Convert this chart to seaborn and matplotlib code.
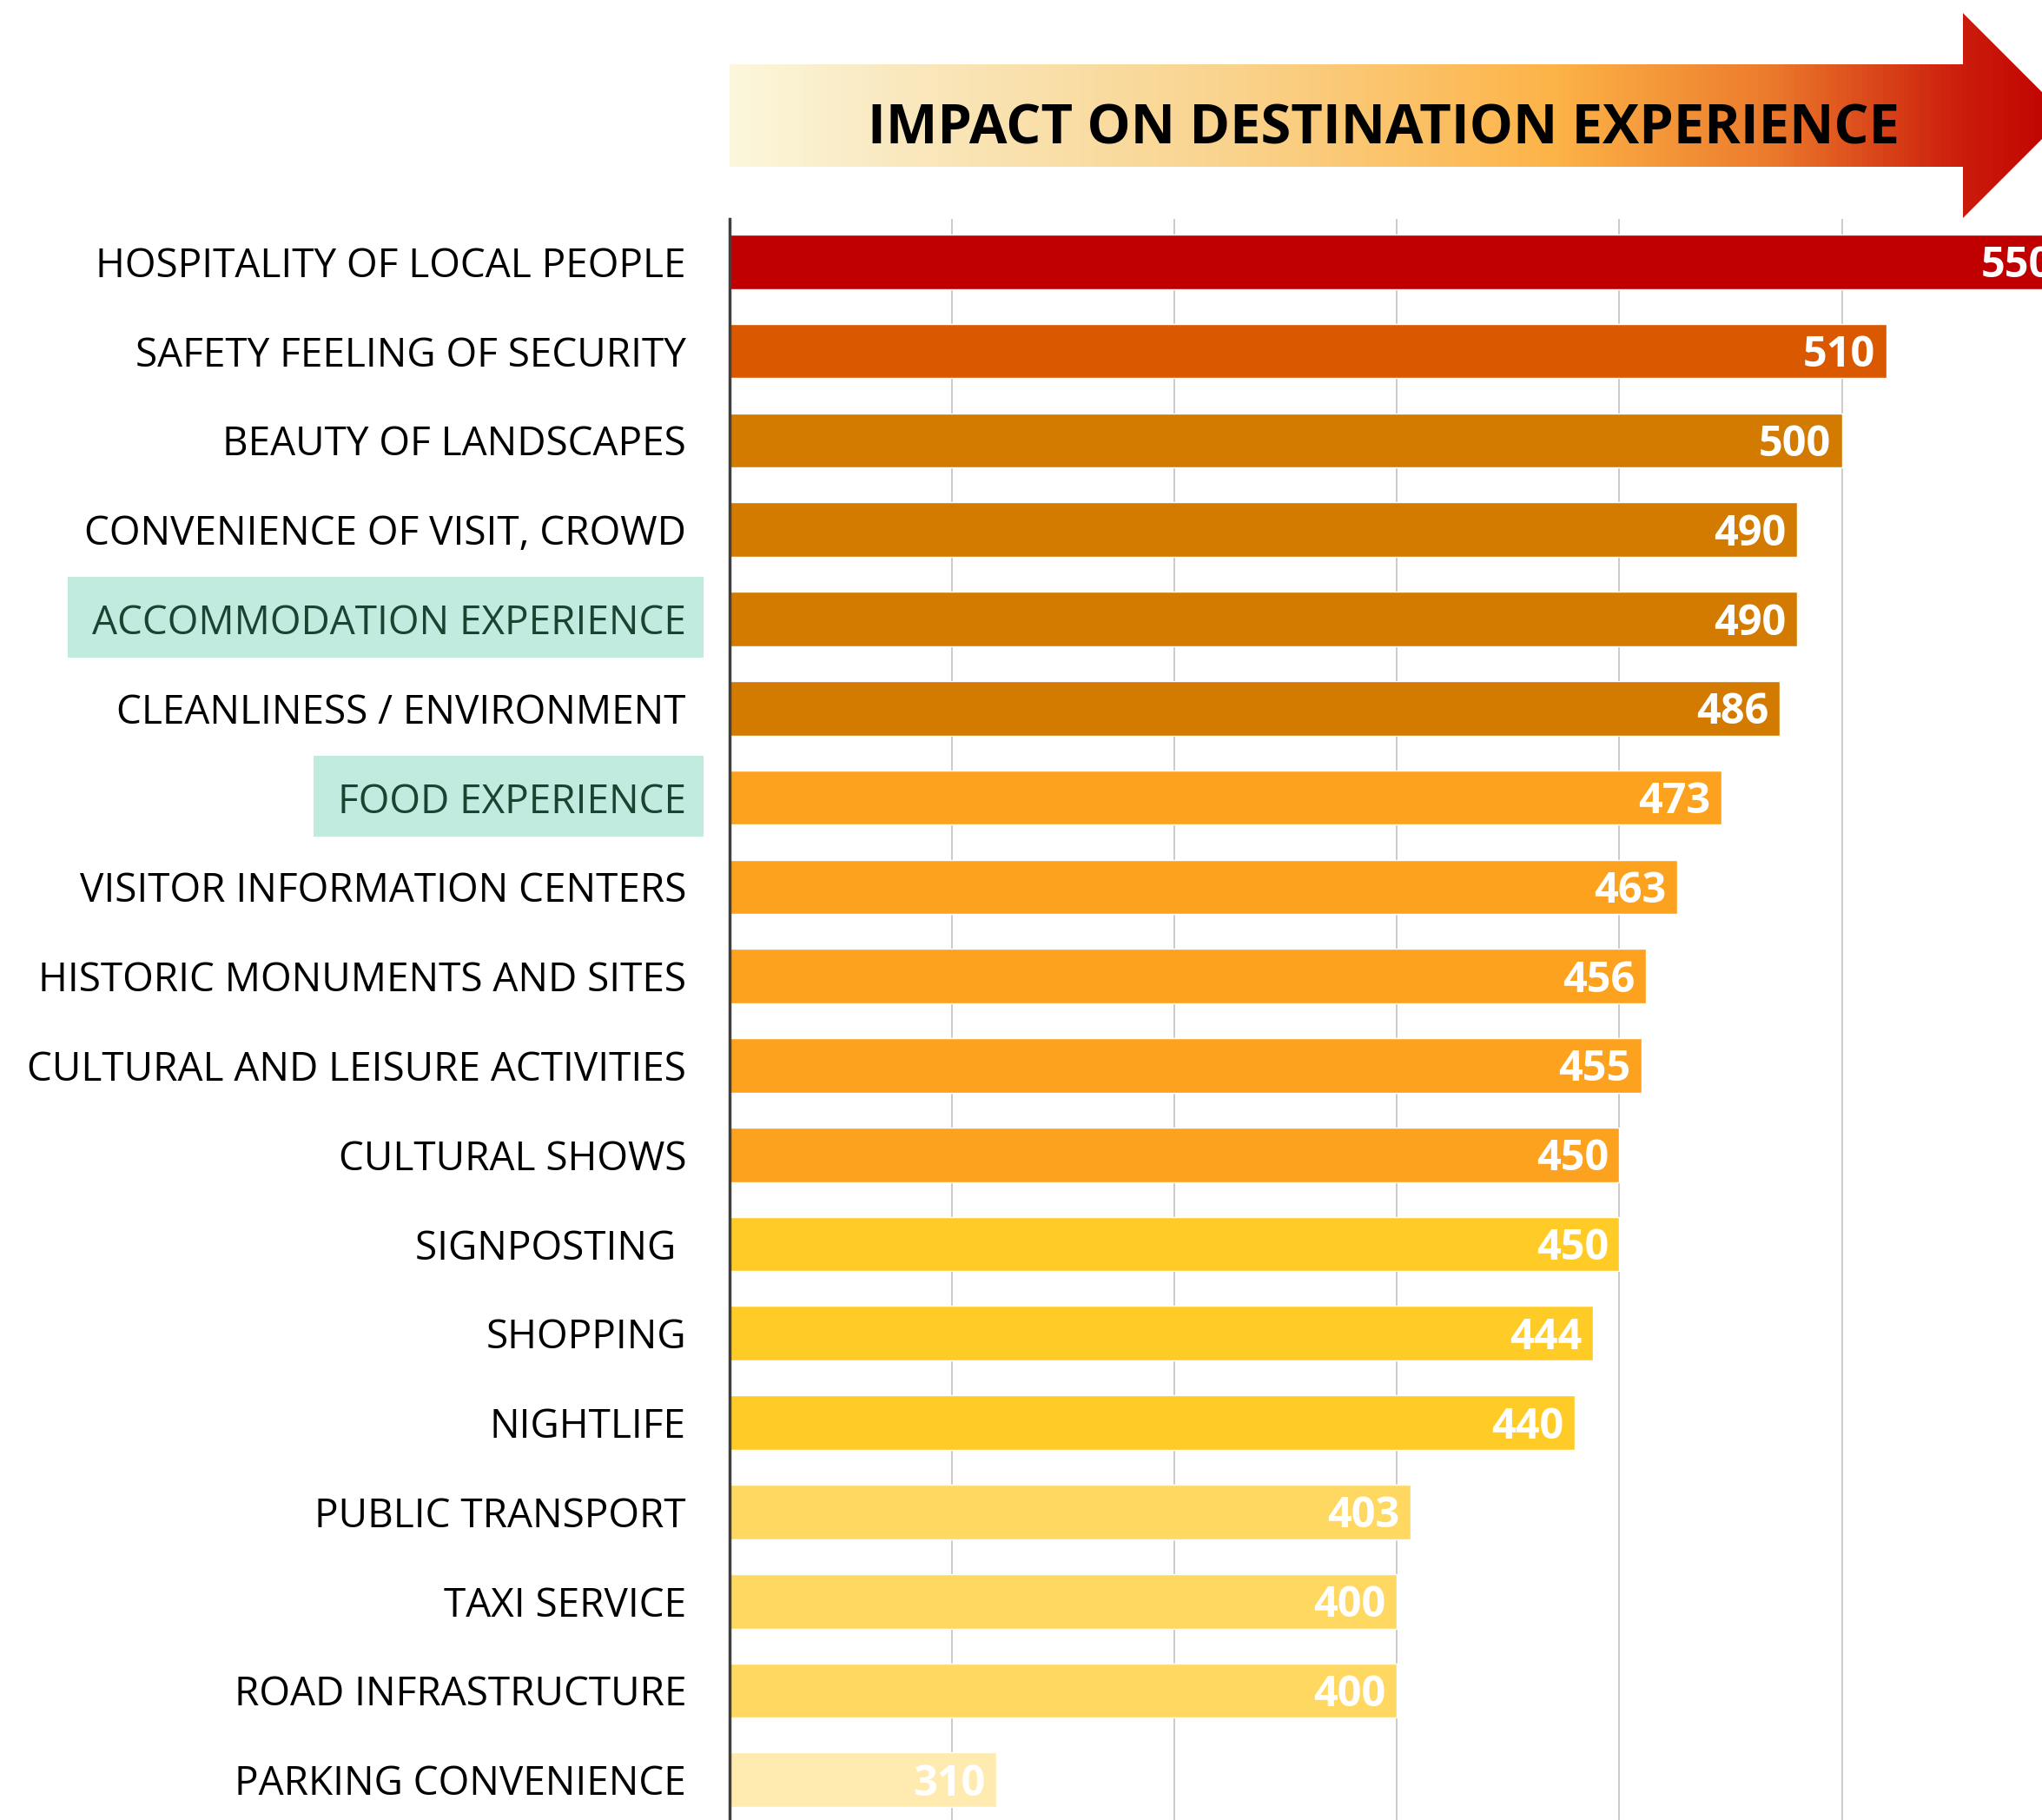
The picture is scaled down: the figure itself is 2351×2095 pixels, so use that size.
import numpy as np
import pandas as pd
import seaborn as sns
import matplotlib.pyplot as plt
from matplotlib.patches import Polygon, Rectangle
from matplotlib.colors import LinearSegmentedColormap

# Scores per destination factor
categories = [
    "HOSPITALITY OF LOCAL PEOPLE",
    "SAFETY FEELING OF SECURITY",
    "BEAUTY OF LANDSCAPES",
    "CONVENIENCE OF VISIT, CROWD",
    "ACCOMMODATION EXPERIENCE",
    "CLEANLINESS / ENVIRONMENT",
    "FOOD EXPERIENCE",
    "VISITOR INFORMATION CENTERS",
    "HISTORIC MONUMENTS AND SITES",
    "CULTURAL AND LEISURE ACTIVITIES",
    "CULTURAL SHOWS",
    "SIGNPOSTING ",
    "SHOPPING",
    "NIGHTLIFE",
    "PUBLIC TRANSPORT",
    "TAXI SERVICE",
    "ROAD INFRASTRUCTURE",
    "PARKING CONVENIENCE",
]
values = [550, 510, 500, 490, 490, 486, 473, 463, 456, 455, 450, 450, 444, 440, 403, 400, 400, 310]
bar_colors = (["#C00000", "#DA5800"] + ["#D27B00"] * 4 + ["#FDA21E"] * 5
              + ["#FFCB27"] * 3 + ["#FFD862"] * 3 + ["#FFEBAF"])
highlighted = ["ACCOMMODATION EXPERIENCE", "FOOD EXPERIENCE"]
title = "IMPACT ON DESTINATION EXPERIENCE"
grid_ticks = [300, 350, 400, 450, 500]

df = pd.DataFrame({"factor": categories, "score": values})

sns.set_style("white")
plt.rcParams["font.family"] = ["Open Sans", "DejaVu Sans"]

W, H = 2351, 2095
fig = plt.figure(figsize=(W / 100, H / 100), dpi=100)

# overlay in pixel coordinates for the arrow banner and label highlights
ov = fig.add_axes([0, 0, 1, 1], zorder=0)
ov.set_xlim(0, W)
ov.set_ylim(H, 0)
ov.axis("off")

ax = fig.add_axes([840 / W, 0, 1 - 840 / W, 1 - 252 / H], zorder=1)
ax.set_facecolor("none")

sns.barplot(data=df, x="score", y="factor", hue="factor", palette=bar_colors,
            legend=False, width=0.61, saturation=1, orient="h", ax=ax)

ax.set_xlim(250, 545)
ax.set_ylim(17.45, -0.48)
ax.set_xticks(grid_ticks)
ax.xaxis.grid(True, color="#BDBDBD", linewidth=1.1)
ax.set_axisbelow(True)
ax.tick_params(axis="x", length=0, labelbottom=False)
ax.tick_params(axis="y", length=0, pad=36, labelsize=33)
ax.set_xlabel("")
ax.set_ylabel("")
for s in ["top", "right", "bottom"]:
    ax.spines[s].set_visible(False)
ax.spines["left"].set_color("#404040")
ax.spines["left"].set_linewidth(2.5)

for lab in ax.get_yticklabels():
    lab.set_color("#1B4332" if lab.get_text() in highlighted else "black")

# value labels inside bar ends (the top one runs past the edge, as in the source)
for i, v in enumerate(values):
    ax.annotate(str(v), xy=(v, i), xytext=(-9, -4), textcoords="offset points",
                ha="right", va="center", color="white", fontsize=35,
                fontweight="bold", annotation_clip=False)

# gradient arrow banner
arrow_pts = [(840, 74), (2260, 74), (2260, 15), (2378, 133),
             (2260, 251), (2260, 192), (840, 192)]
cmap = LinearSegmentedColormap.from_list("arrow", [
    (0.0, "#FCF7DC"), (0.12, "#F9E9C0"), (0.38, "#FAD38C"),
    (0.62, "#FDB347"), (0.78, "#EC7A2C"), (0.92, "#CC1F0C"), (1.0, "#C00000")])
grad = np.linspace(0, 1, 512).reshape(1, -1)
clip = Polygon(arrow_pts, closed=True, facecolor="none", edgecolor="none")
ov.add_patch(clip)
im = ov.imshow(grad, cmap=cmap, aspect="auto", extent=(840, 2378, 251, 15))
im.set_clip_path(clip)
ov.set_xlim(0, W)
ov.set_ylim(H, 0)
ov.text(1593, 149, title, ha="center", va="center", fontsize=45.5,
        fontweight="bold", color="black")

# highlight boxes behind selected labels
fig.canvas.draw()
for i, lab in enumerate(ax.get_yticklabels()):
    if lab.get_text() in highlighted:
        bb = lab.get_window_extent()
        yc = H - ax.transData.transform((0, i))[1]
        ov.add_patch(Rectangle((bb.x0 - 28, yc - 48), 810 - (bb.x0 - 28), 93,
                               facecolor="#C2EBE0", edgecolor="none"))

fig.savefig("out.png", dpi=100)
